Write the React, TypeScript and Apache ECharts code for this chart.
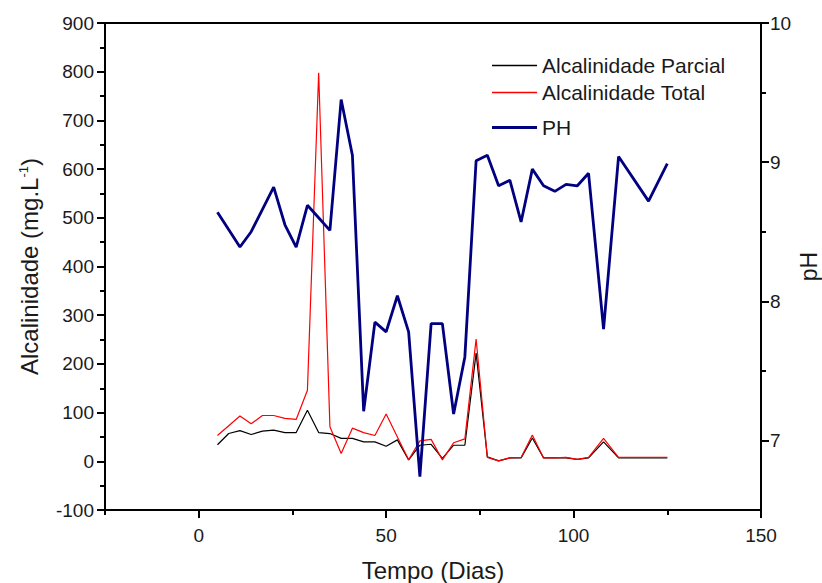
import React, { useEffect, useRef } from "react";
import * as echarts from "echarts";

const alkDays = [5, 8, 11, 14, 17, 20, 23, 26, 29, 32, 35, 38, 41, 44, 47, 50, 53, 56, 59, 62, 65, 68, 71, 74, 77, 80, 83, 86, 89, 92, 95, 98, 101, 104, 108, 112, 116, 120, 125];
const alkParcial = [34, 57, 63, 55, 62, 64, 59, 59, 105, 59, 57, 47, 47, 40, 40, 31, 44, 3, 33, 35, 6, 33, 33, 222, 9, 1, 7, 7, 48, 7, 7, 7, 4, 7, 40, 7, 7, 7, 7];
const alkTotal = [53, 73, 93, 77, 94, 94, 88, 86, 146, 798, 71, 16, 68, 59, 53, 97, 50, 3, 42, 45, 3, 38, 46, 251, 8, 1, 7, 8, 54, 7, 7, 8, 4, 8, 47, 8, 8, 8, 8];
const phDays = [5, 11, 14, 20, 23, 26, 29, 32, 35, 38, 41, 44, 47, 50, 53, 56, 59, 62, 65, 68, 71, 74, 77, 80, 83, 86, 89, 92, 95, 98, 101, 104, 108, 112, 120, 125];
const phValues = [8.64, 8.39, 8.5, 8.82, 8.55, 8.39, 8.69, 8.6, 8.51, 9.45, 9.05, 7.21, 7.85, 7.78, 8.04, 7.78, 6.74, 7.84, 7.84, 7.19, 7.6, 9.01, 9.05, 8.83, 8.87, 8.57, 8.95, 8.83, 8.79, 8.84, 8.83, 8.92, 7.8, 9.04, 8.72, 8.99];

const xMajor = [0, 50, 100, 150];
const xMinor = [-25, 25, 75, 125];
const phMajor = [7, 8, 9, 10];
const phMinor = [7.5, 8.5, 9.5];

const FONT = "'Liberation Sans', Arial, sans-serif";
const TXT = "#1a1a1a";

export default function App() {
  const ref = useRef<HTMLDivElement>(null);
  useEffect(() => {
    if (!ref.current) return;
    const chart = echarts.init(ref.current, null, { renderer: "svg" });
    const axisLine = { show: true, onZero: false, lineStyle: { color: "#000", width: 2 } };
    const noLine = { show: false, onZero: false };
    const tickStyle = { color: "#000", width: 2 };
    const legendText = { fontSize: 21, color: TXT, fontFamily: FONT };
    chart.setOption({
      animation: false,
      backgroundColor: "#fff",
      grid: { left: 105, right: 61, top: 23, bottom: 73, containLabel: false, outerBoundsMode: "none" },
      legend: [
        { data: ["Alcalinidade Parcial"], left: 492, top: 55, padding: 0, icon: "rect", itemWidth: 45, itemHeight: 1.5, textStyle: legendText },
        { data: ["Alcalinidade Total"], left: 492, top: 82, padding: 0, icon: "rect", itemWidth: 45, itemHeight: 1.5, textStyle: legendText },
        { data: ["PH"], left: 492, top: 117, padding: 0, icon: "rect", itemWidth: 45, itemHeight: 3, textStyle: legendText },
      ],
      xAxis: [
        {
          type: "value", min: -25, max: 150, position: "bottom",
          axisLine,
          axisTick: { show: true, customValues: xMajor, length: 8, lineStyle: tickStyle },
          axisLabel: { customValues: xMajor, fontSize: 19, margin: 16, color: TXT, fontFamily: FONT },
          splitLine: { show: false },
          name: "Tempo (Dias)", nameLocation: "middle", nameGap: 48,
          nameTextStyle: { fontSize: 24, color: TXT, fontFamily: FONT },
        },
        {
          type: "value", min: -25, max: 150, position: "bottom",
          axisLine: noLine,
          axisTick: { show: true, customValues: xMinor, length: 5, lineStyle: tickStyle },
          axisLabel: { show: false },
          splitLine: { show: false },
        },
        {
          type: "value", min: -25, max: 150, position: "top",
          axisLine,
          axisTick: { show: false },
          axisLabel: { show: false },
          splitLine: { show: false },
        },
      ],
      yAxis: [
        {
          type: "value", min: -100, max: 900, interval: 100, position: "left",
          axisLine,
          axisTick: { show: true, length: 8, lineStyle: tickStyle },
          minorTick: { show: true, splitNumber: 2, length: 5, lineStyle: tickStyle },
          axisLabel: { fontSize: 19, margin: 11, color: TXT, fontFamily: FONT },
          splitLine: { show: false },
          minorSplitLine: { show: false },
          name: "Alcalinidade (mg.L{sup|-1})", nameLocation: "middle", nameGap: 64, nameRotate: 90,
          nameTextStyle: {
            fontSize: 24, color: TXT, fontFamily: FONT,
            rich: { sup: { fontSize: 13, color: TXT, fontFamily: FONT, verticalAlign: "top", padding: [0, 0, 10, 0] } },
          },
        },
        {
          type: "value", min: 6.5, max: 10, position: "right",
          axisLine,
          axisTick: { show: true, customValues: phMajor, length: 8, lineStyle: tickStyle },
          axisLabel: { customValues: phMajor, fontSize: 19, margin: 9, color: TXT, fontFamily: FONT },
          splitLine: { show: false },
          name: "pH", nameLocation: "middle", nameGap: 36, nameRotate: 90, nameMoveOverlap: false,
          nameTextStyle: { fontSize: 23, color: TXT, fontFamily: FONT },
        },
        {
          type: "value", min: 6.5, max: 10, position: "right",
          axisLine: noLine,
          axisTick: { show: true, customValues: phMinor, length: 5, lineStyle: tickStyle },
          axisLabel: { show: false },
          splitLine: { show: false },
        },
      ],
      series: [
        {
          name: "Alcalinidade Parcial", type: "line", xAxisIndex: 0, yAxisIndex: 0,
          data: alkDays.map((d, i) => [d, alkParcial[i]]),
          symbol: "none", color: "#000", lineStyle: { width: 1.2, color: "#000" },
        },
        {
          name: "Alcalinidade Total", type: "line", xAxisIndex: 0, yAxisIndex: 0,
          data: alkDays.map((d, i) => [d, alkTotal[i]]),
          symbol: "none", color: "#ff0000", lineStyle: { width: 1.2, color: "#ff0000" },
        },
        {
          name: "PH", type: "line", xAxisIndex: 0, yAxisIndex: 1,
          data: phDays.map((d, i) => [d, phValues[i]]),
          symbol: "none", color: "#000080", lineStyle: { width: 2.8, color: "#000080" },
        },
      ],
    });
    return () => chart.dispose();
  }, []);
  return <div ref={ref} style={{ position: "absolute", left: 0, top: 0, width: 822, height: 583, background: "#fff" }} />;
}
